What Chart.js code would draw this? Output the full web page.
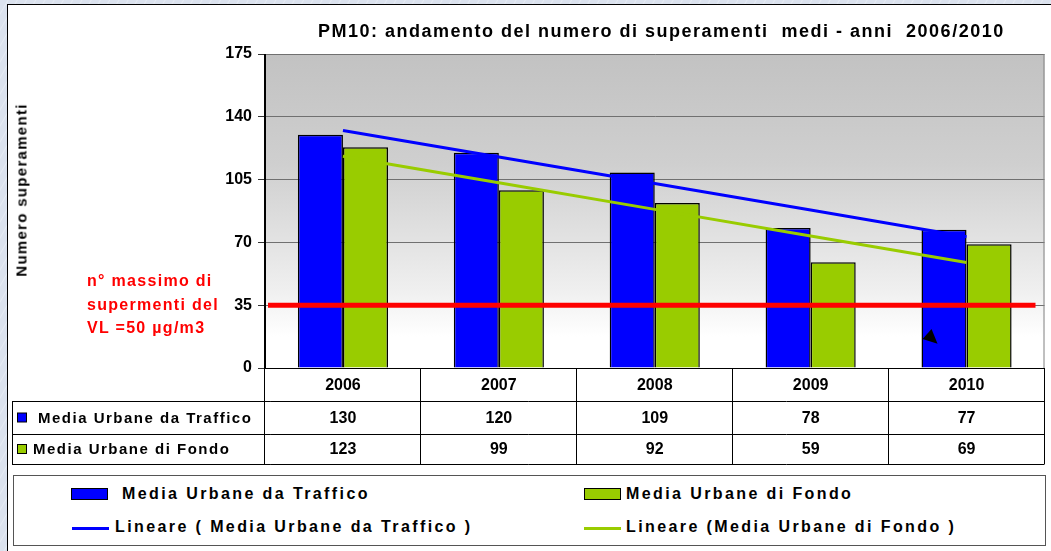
<!DOCTYPE html>
<html>
<head>
<meta charset="utf-8">
<script src="https://cdn.jsdelivr.net/npm/chart.js@4.4.1/dist/chart.umd.min.js"></script>
<style>
  body {
    margin: 0;
    width: 1051px;
    height: 551px;
    overflow: hidden;
    background: repeating-linear-gradient(120deg, #dbe2ee 0px, #dbe2ee 6px, #e6ebf3 7px, #dbe2ee 8px);
    font-family: "Liberation Sans", Arial, sans-serif;
    position: relative;
  }
  #panel {
    position: absolute;
    left: 7px; top: 4px; right: 0; bottom: 0;
    background: #fff;
    border-top: 1px solid #000;
    border-left: 1px solid #000;
  }
  #chart { position: absolute; left: 0; top: 0; }
  .txt { position: absolute; font-weight: bold; white-space: pre; }
  #title { left: 318px; top: 21px; font-size: 18px; letter-spacing: 1.5px; }
  #ytitle {
    left: 21px; top: 190px; font-size: 15px; letter-spacing: 1.3px;
    transform: translate(-50%, -50%) rotate(-90deg);
  }
  #limit { left: 87px; top: 269px; font-size: 16px; letter-spacing: 1.3px; color: #f00; line-height: 23.5px; }
  #legend {
    position: absolute; left: 13px; top: 475px; width: 1031px; height: 69px;
    border: 1px solid #555; background: #fff;
  }
  .lg { position: absolute; font-size: 16px; font-weight: bold; letter-spacing: 2.4px; white-space: pre; line-height: 18px; }
  .sw { position: absolute; }
</style>
</head>
<body>
<div id="panel"></div>
<canvas id="chart" width="1051" height="551"></canvas>
<div class="txt" id="title">PM10: andamento del numero di superamenti  medi - anni  2006/2010</div>
<div class="txt" id="ytitle">Numero superamenti</div>
<div class="txt" id="limit">n° massimo di
supermenti del
VL =50 µg/m3</div>
<div id="legend"></div>

<script>
const years = ['2006', '2007', '2008', '2009', '2010'];
const traffico = [130, 120, 109, 78, 77];
const fondo = [123, 99, 92, 59, 69];
const yTicks = [0, 35, 70, 105, 140, 175];
const limitValue = 35;

const labelTraffico = 'Media Urbane da Traffico';
const labelFondo = 'Media Urbane di Fondo';
const labelTrendTraffico = 'Lineare ( Media Urbane da Traffico )';
const labelTrendFondo = 'Lineare (Media Urbane di Fondo )';

const blue = '#0000ff';
const green = '#99cc00';
const font = '"Liberation Sans", Arial, sans-serif';

// least squares trend, like the excel "Lineare" line
function linearTrend(values) {
    const n = values.length;
    const mx = (n - 1) / 2;
    const my = values.reduce((a, b) => a + b, 0) / n;
    let num = 0, den = 0;
    values.forEach((v, i) => { num += (i - mx) * (v - my); den += (i - mx) * (i - mx); });
    const slope = num / den;
    return values.map((v, i) => my + slope * (i - mx));
}

// gray gradient behind the bars
const backgroundPlugin = {
    id: 'plotBackground',
    beforeDraw(chart) {
        const { ctx, chartArea: a } = chart;
        const g = ctx.createLinearGradient(0, a.top, 0, a.bottom);
        g.addColorStop(0, '#c2c2c2');
        g.addColorStop(0.35, '#cfcfcf');
        g.addColorStop(0.75, '#efefef');
        g.addColorStop(0.9, '#ffffff');
        g.addColorStop(1, '#ffffff');
        ctx.save();
        ctx.fillStyle = g;
        ctx.fillRect(a.left, a.top, a.right - a.left, a.bottom - a.top);
        ctx.restore();
    }
};

// red limit line, right border and the stray arrow head
const overlayPlugin = {
    id: 'overlay',
    afterDatasetsDraw(chart) {
        const { ctx, chartArea: a, scales: { x, y } } = chart;
        ctx.save();
        ctx.strokeStyle = '#808080';
        ctx.lineWidth = 1;
        ctx.beginPath();
        ctx.moveTo(a.right - 0.5, a.top);
        ctx.lineTo(a.right - 0.5, a.bottom);
        ctx.stroke();

        const yl = y.getPixelForValue(limitValue);
        ctx.strokeStyle = '#ff0000';
        ctx.lineWidth = 5;
        ctx.beginPath();
        ctx.moveTo(a.left + 3, yl);
        ctx.lineTo(a.right - 9, yl);
        ctx.stroke();

        const cx = x.getPixelForTick(4);
        ctx.fillStyle = '#000';
        ctx.beginPath();
        ctx.moveTo(cx - 44, y.getPixelForValue(16.2));
        ctx.lineTo(cx - 35, y.getPixelForValue(21.7));
        ctx.lineTo(cx - 29, y.getPixelForValue(13.5));
        ctx.closePath();
        ctx.fill();
        ctx.restore();
    }
};

// data table under the plot
const tablePlugin = {
    id: 'dataTable',
    afterDraw(chart) {
        const { ctx, chartArea: a, scales: { x } } = chart;
        const rows = [a.bottom, a.bottom + 33, a.bottom + 66, a.bottom + 96];
        const tableLeft = 12;
        const cw = (a.right - a.left) / years.length;
        ctx.save();
        ctx.strokeStyle = '#000';
        ctx.lineWidth = 1;
        ctx.beginPath();
        ctx.moveTo(a.left, rows[0] + 0.5); ctx.lineTo(a.right, rows[0] + 0.5);
        for (let r = 1; r < rows.length; r++) {
            ctx.moveTo(tableLeft, rows[r] + 0.5); ctx.lineTo(a.right, rows[r] + 0.5);
        }
        ctx.moveTo(tableLeft + 0.5, rows[1]); ctx.lineTo(tableLeft + 0.5, rows[3]);
        for (let i = 0; i <= years.length; i++) {
            const xx = Math.round(a.left + i * cw) - 0.5;
            ctx.moveTo(xx, i === 0 ? a.top : rows[0]); ctx.lineTo(xx, rows[3]);
        }
        ctx.stroke();

        ctx.fillStyle = '#000';
        ctx.textAlign = 'center';
        ctx.textBaseline = 'middle';
        ctx.font = 'bold 16px ' + font;
        years.forEach((yr, i) => {
            const cx = x.getPixelForTick(i);
            ctx.fillText(yr, cx, (rows[0] + rows[1]) / 2 + 1);
            ctx.fillText(String(traffico[i]), cx, (rows[1] + rows[2]) / 2 + 1);
            ctx.fillText(String(fondo[i]), cx, (rows[2] + rows[3]) / 2 + 1);
        });

        // row headers with color keys
        const keys = [
            { label: labelTraffico, color: blue, row: 1, tx: 38 },
            { label: labelFondo, color: green, row: 2, tx: 33 }
        ];
        ctx.textAlign = 'left';
        ctx.font = 'bold 15px ' + font;
        if ('letterSpacing' in ctx) ctx.letterSpacing = '1.5px';
        keys.forEach(k => {
            const cy = (rows[k.row] + rows[k.row + 1]) / 2;
            ctx.fillStyle = k.color;
            ctx.fillRect(17, cy - 4.5, 9, 9);
            ctx.strokeStyle = '#000';
            ctx.strokeRect(17.5, cy - 4.5, 9, 9);
            ctx.fillStyle = '#000';
            ctx.fillText(k.label, k.tx, cy + 1);
        });
        ctx.restore();
    }
};

const chart = new Chart(document.getElementById('chart'), {
    data: {
        labels: years,
        datasets: [
            {
                type: 'line', label: labelTrendTraffico, data: linearTrend(traffico),
                borderColor: blue, borderWidth: 3, pointRadius: 0, order: 0
            },
            {
                type: 'line', label: labelTrendFondo, data: linearTrend(fondo),
                borderColor: green, borderWidth: 3, pointRadius: 0, order: 0
            },
            {
                type: 'bar', label: labelTraffico, data: traffico,
                backgroundColor: blue, borderColor: '#000', borderWidth: 1.5,
                barPercentage: 1, categoryPercentage: 0.578, order: 1
            },
            {
                type: 'bar', label: labelFondo, data: fondo,
                backgroundColor: green, borderColor: '#000', borderWidth: 1.5,
                barPercentage: 1, categoryPercentage: 0.578, order: 1
            }
        ]
    },
    options: {
        responsive: false,
        animation: false,
        layout: { padding: { top: 54, right: 6.5, bottom: 183, left: 0 } },
        plugins: { legend: { display: false }, tooltip: { enabled: false } },
        scales: {
            x: { display: false, offset: true },
            y: {
                min: yTicks[0],
                max: yTicks[yTicks.length - 1],
                afterBuildTicks: s => { s.ticks = yTicks.map(v => ({ value: v })); },
                afterFit: s => { s.width = 265; },
                ticks: { color: '#000', font: { family: font, size: 16, weight: 'bold' }, padding: 6 },
                grid: { color: '#707070', tickColor: '#333', tickLength: 7, lineWidth: 1 },
                border: { color: '#000', width: 1 }
            }
        }
    },
    plugins: [backgroundPlugin, overlayPlugin, tablePlugin]
});

// legend box at the bottom
const legendItems = [
    { label: labelTraffico, color: blue, kind: 'box', left: 57, top: 12, tx: 108 },
    { label: labelFondo, color: green, kind: 'box', left: 570, top: 12, tx: 612 },
    { label: labelTrendTraffico, color: blue, kind: 'line', left: 58, top: 45, tx: 101 },
    { label: labelTrendFondo, color: green, kind: 'line', left: 570, top: 45, tx: 612 }
];
const legendBox = document.getElementById('legend');
legendItems.forEach(item => {
    const sw = document.createElement('div');
    sw.className = 'sw';
    if (item.kind === 'box') {
        sw.style.cssText = `left:${item.left}px;top:${item.top}px;width:35px;height:10px;background:${item.color};border:1px solid #000;`;
    } else {
        sw.style.cssText = `left:${item.left}px;top:${item.top + 6}px;width:37px;height:3px;background:${item.color};`;
    }
    legendBox.appendChild(sw);
    const t = document.createElement('div');
    t.className = 'lg';
    t.style.left = item.tx + 'px';
    t.style.top = (item.top - 3) + 'px';
    t.textContent = item.label;
    legendBox.appendChild(t);
});
</script>
</body>
</html>
